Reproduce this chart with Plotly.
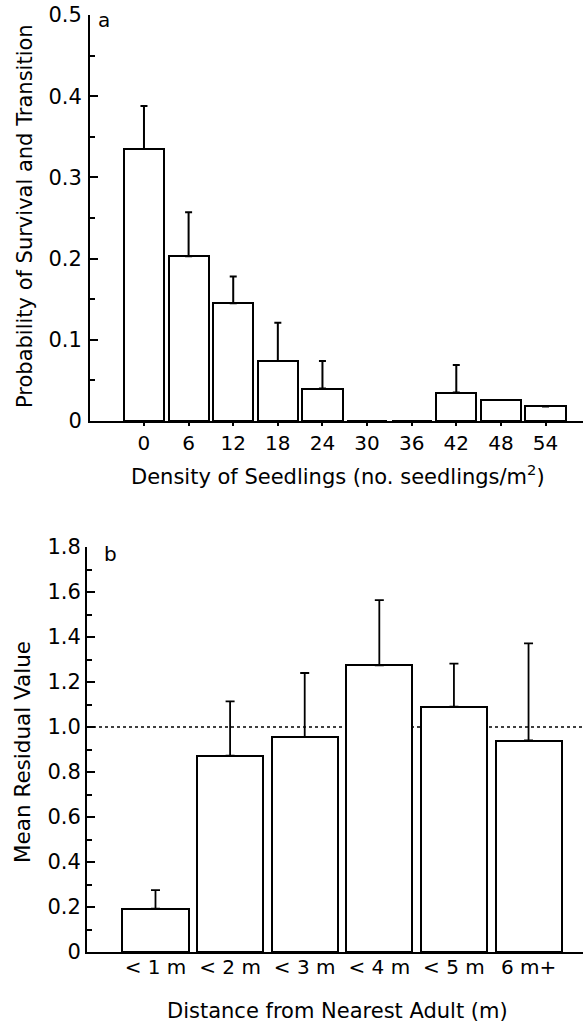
import plotly.graph_objects as go

# ---------------- data ----------------
density_labels = ["0", "6", "12", "18", "24", "30", "36", "42", "48", "54"]
survival_prob = [0.335, 0.203, 0.145, 0.074, 0.040, 0.0, 0.0, 0.035, 0.026, 0.018]
survival_err = [0.053, 0.054, 0.033, 0.047, 0.034, 0.0, 0.0, 0.034, 0.0, 0.0]

distance_labels = ["< 1 m", "< 2 m", "< 3 m", "< 4 m", "< 5 m", "6 m+"]
residual_mean = [0.193, 0.873, 0.956, 1.274, 1.090, 0.940]
residual_err = [0.082, 0.241, 0.284, 0.290, 0.192, 0.432]

a_yticks = [0, 0.1, 0.2, 0.3, 0.4, 0.5]
a_yticktext = ["0", "0.1", "0.2", "0.3", "0.4", "0.5"]
b_yticks = [0, 0.2, 0.4, 0.6, 0.8, 1.0, 1.2, 1.4, 1.6, 1.8]
b_yticktext = ["0", "0.2", "0.4", "0.6", "0.8", "1.0", "1.2", "1.4", "1.6", "1.8"]
reference_level = 1.0

# ---------------- figure ----------------
W, H = 583, 1026
FONT = "DejaVu Sans"

def px(x):
    return x / W

def py(y):
    return 1 - y / H

xa = list(range(len(density_labels)))
xb = list(range(len(distance_labels)))

fig = go.Figure()

fig.add_trace(go.Bar(
    x=xa, y=survival_prob, width=0.9,
    marker=dict(color="white", line=dict(color="black", width=2)),
    error_y=dict(type="data", array=survival_err, arrayminus=[0] * len(xa),
                 symmetric=False, color="black", thickness=2, width=3.5),
    xaxis="x", yaxis="y", showlegend=False, hoverinfo="skip",
))

fig.add_trace(go.Bar(
    x=xb, y=residual_mean, width=0.885,
    marker=dict(color="white", line=dict(color="black", width=2)),
    error_y=dict(type="data", array=residual_err, arrayminus=[0] * len(xb),
                 symmetric=False, color="black", thickness=1.8, width=4.5),
    xaxis="x2", yaxis="y2", showlegend=False, hoverinfo="skip",
))

fig.update_layout(
    width=W, height=H,
    margin=dict(l=0, r=0, t=0, b=0),
    paper_bgcolor="white", plot_bgcolor="rgba(0,0,0,0)",
    template="none",
    font=dict(family=FONT, color="black"),
    bargap=0,
)

fig.update_layout(
    xaxis=dict(domain=[px(90), 1], range=[-1.21, 9.84], anchor="y",
               tickmode="array", tickvals=xa, ticktext=density_labels,
               ticks="outside", ticklen=3, ticklabelstandoff=0),
    yaxis=dict(domain=[py(421), py(15)], range=[0, 0.5], anchor="x",
               tickmode="array", tickvals=a_yticks, ticktext=a_yticktext,
               ticks="inside", ticklen=8, ticklabelstandoff=2,
               minor=dict(dtick=0.05, ticks="inside", ticklen=5,
                          tickwidth=1.5, tickcolor="black", tick0=0)),
    xaxis2=dict(domain=[px(87), 1], range=[-0.918, 5.73], anchor="y2",
                tickmode="array", tickvals=xb, ticktext=distance_labels,
                ticks="", ticklabelstandoff=-4),
    yaxis2=dict(domain=[py(952), py(547)], range=[0, 1.8], anchor="x2",
                tickmode="array", tickvals=b_yticks, ticktext=b_yticktext,
                ticks="inside", ticklen=8, ticklabelstandoff=0,
                minor=dict(dtick=0.1, ticks="inside", ticklen=5,
                           tickwidth=1.5, tickcolor="black", tick0=0)),
)

fig.update_xaxes(showline=True, linecolor="black", linewidth=2, tickwidth=1.5,
                 tickcolor="black", showgrid=False, zeroline=False,
                 automargin=False, tickfont=dict(family=FONT, size=20, color="black"))
fig.update_yaxes(showline=True, linecolor="black", linewidth=2, tickwidth=1.5,
                 tickcolor="black", showgrid=False, zeroline=False,
                 automargin=False, tickfont=dict(family=FONT, size=21, color="black"))

fig.add_shape(type="line", xref="x2 domain", yref="y2",
              x0=0, x1=1, y0=reference_level, y1=reference_level,
              line=dict(color="black", width=1.5, dash="dot"), layer="below")

def note(text, x, y, size, angle=0):
    fig.add_annotation(text=text, x=px(x), y=py(y), xref="paper", yref="paper",
                       showarrow=False, textangle=angle,
                       font=dict(family=FONT, size=size, color="black"),
                       xanchor="center", yanchor="middle")

note("a", 104, 20, 20)
note("b", 110, 554, 20)
note("Density of Seedlings (no. seedlings/m<sup>2</sup>)", 338, 475, 21)
note("Probability of Survival and Transition", 25, 216, 21, -90)
note("Mean Residual Value", 22, 752, 21.5, -90)
note("Distance from Nearest Adult (m)", 337, 1011, 21)

fig.write_html("out.html", config={"displayModeBar": False},
               post_script="document.body.style.margin='0px';")
